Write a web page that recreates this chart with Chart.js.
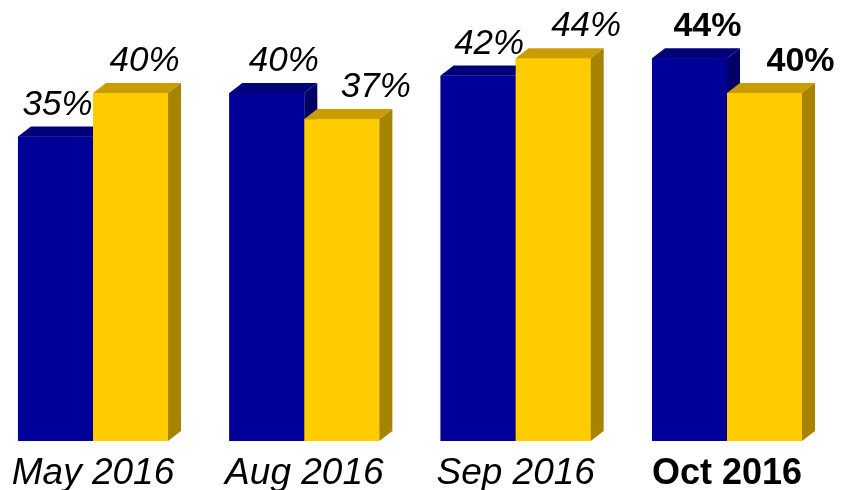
<!DOCTYPE html>
<html>
<head>
<meta charset="utf-8">
<script src="https://cdn.jsdelivr.net/npm/chart.js@4"></script>
<style>
  body { margin: 0; background: #fff; }
  #wrap { width: 844px; height: 490px; }
</style>
</head>
<body>
<div id="wrap"><canvas id="chart"></canvas></div>
<script>
const months = ['May 2016', 'Aug 2016', 'Sep 2016', 'Oct 2016'];
const blueValues = [35, 40, 42, 44];
const goldValues = [40, 37, 44, 40];

// front, top, side
const blueFaces = ['#000099', '#00007a', '#000066'];
const goldFaces = ['#ffcc00', '#c99c00', '#a68300'];
const depthX = 13;
const depthY = 10;
const fontFamily = '"Liberation Sans", Arial, sans-serif';
// the value labels were nudged by hand in the original, sideways from bar centre
const labelNudge = [[2, 17, 11, 18], [14, 34, 33, 36]];

function labelFont(i, size) {
  return i === months.length - 1
    ? { family: fontFamily, size: size - 1, weight: 'bold', style: 'normal' }
    : { family: fontFamily, size: size, weight: 'normal', style: 'italic' };
}

// draws the bars as 3d boxes, blue first so the gold front hides the blue side
const boxes = {
  id: 'boxes',
  afterDatasetsDraw(chart) {
    const ctx = chart.ctx;
    const faceSets = [blueFaces, goldFaces];
    ctx.save();
    chart.data.datasets.forEach((ds, d) => {
      const faces = faceSets[d];
      chart.getDatasetMeta(d).data.forEach((bar, i) => {
        const x1 = bar.x - bar.width / 2;
        const x2 = bar.x + bar.width / 2;
        const top = bar.y;
        const bottom = bar.base;
        ctx.fillStyle = faces[0];
        ctx.fillRect(x1, top, x2 - x1, bottom - top);
        ctx.fillStyle = faces[1];
        ctx.beginPath();
        ctx.moveTo(x1, top);
        ctx.lineTo(x1 + depthX, top - depthY);
        ctx.lineTo(x2 + depthX, top - depthY);
        ctx.lineTo(x2, top);
        ctx.closePath();
        ctx.fill();
        ctx.fillStyle = faces[2];
        ctx.beginPath();
        ctx.moveTo(x2, top);
        ctx.lineTo(x2 + depthX, top - depthY);
        ctx.lineTo(x2 + depthX, bottom - depthY);
        ctx.lineTo(x2, bottom);
        ctx.closePath();
        ctx.fill();
      });
    });
    // value labels
    ctx.fillStyle = '#000';
    ctx.textAlign = 'center';
    ctx.textBaseline = 'alphabetic';
    chart.data.datasets.forEach((ds, d) => {
      chart.getDatasetMeta(d).data.forEach((bar, i) => {
        const f = labelFont(i, 35);
        ctx.font = f.style + ' ' + f.weight + ' ' + f.size + 'px ' + f.family;
        ctx.fillText(ds.data[i] + '%', bar.x + labelNudge[d][i], bar.y - depthY - 12);
      });
    });
    ctx.restore();
  }
};

new Chart(document.getElementById('chart'), {
  type: 'bar',
  data: {
    labels: months,
    datasets: [
      { data: blueValues, backgroundColor: blueFaces[0], clip: false },
      { data: goldValues, backgroundColor: goldFaces[0], clip: false }
    ]
  },
  options: {
    responsive: true,
    maintainAspectRatio: false,
    animation: false,
    events: [],
    categoryPercentage: 0.71,
    barPercentage: 1,
    layout: { padding: { left: 93, right: 117, top: 6, bottom: 0 } },
    plugins: { legend: { display: false }, tooltip: { enabled: false } },
    scales: {
      x: {
        offset: false,
        grid: { display: false, drawTicks: false },
        border: { display: false },
        afterFit: (scale) => { scale.height = 49; },
        ticks: {
          color: '#000',
          padding: 11,
          maxRotation: 0,
          autoSkip: false,
          font: (c) => labelFont(c.index, 37)
        }
      },
      y: { display: false, min: 0, max: 50 }
    }
  },
  plugins: [boxes]
});
</script>
</body>
</html>
